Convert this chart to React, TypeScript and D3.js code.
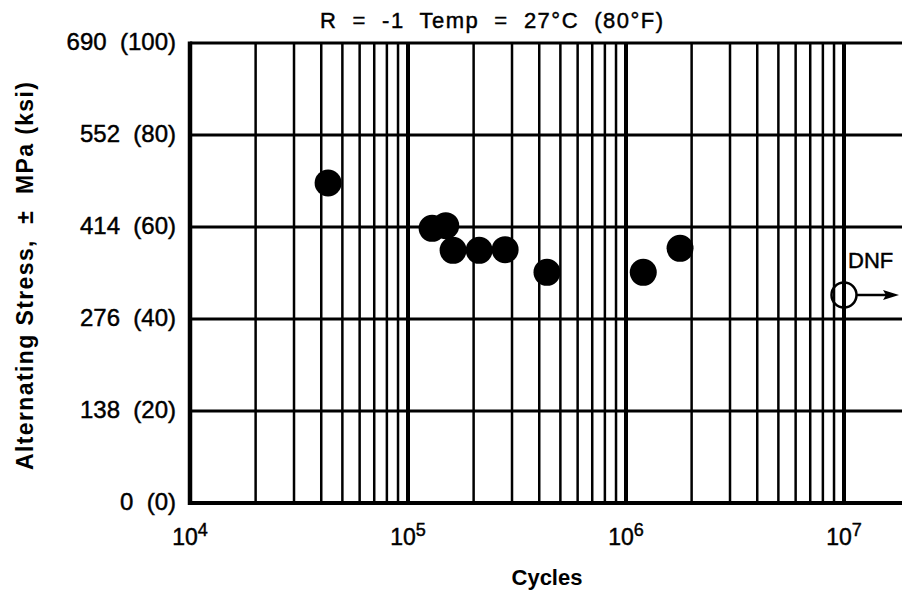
import React from "react";
import * as d3 from "d3";

const cycles = [4.3e4, 1.29e5, 1.49e5, 1.61e5, 2.12e5, 2.79e5, 4.34e5, 1.2e6, 1.77e6];
const stress = [480, 412, 416, 379, 379, 380, 346, 346, 382];
const dnfCycles = [1e7];
const dnfStress = [312];
const yTicks = [0, 138, 276, 414, 552, 690];
const yTickKsi = [0, 20, 40, 60, 80, 100];
const xDecades = [4, 5, 6, 7];

const W = 902;
const H = 594;
const left = 190;
const right = 903;
const top = 43;
const bottom = 503;

export default function App() {
  const decadePx = 218;
  const xMax = Math.pow(10, 4 + (right - left) / decadePx);
  const x = d3.scaleLog().domain([1e4, xMax]).range([left, right]);
  const y = d3.scaleLinear().domain([0, 690]).range([bottom, top]);

  const minor: number[] = [];
  for (let d = 4; d <= 7; d++) {
    for (let m = 2; m <= 9; m++) {
      const v = m * Math.pow(10, d);
      if (v < xMax) minor.push(v);
    }
  }
  const font = "'Liberation Sans', Arial, sans-serif";
  const heavy = { stroke: "#000", strokeWidth: 0.45 };

  return (
    <svg width={W} height={H} style={{ position: "absolute", left: 0, top: 0, background: "#fff" }}>
      <rect x={0} y={0} width={W} height={H} fill="#fff" />
      {minor.map((v, i) => (
        <line key={"m" + i} x1={x(v)} x2={x(v)} y1={top} y2={bottom} stroke="#000" strokeWidth={2.5} />
      ))}
      {xDecades.slice(1).map((d) => (
        <line key={"d" + d} x1={x(Math.pow(10, d))} x2={x(Math.pow(10, d))} y1={top} y2={bottom} stroke="#000" strokeWidth={4} />
      ))}
      {yTicks.map((t) => (
        <line key={"h" + t} x1={left} x2={W} y1={y(t)} y2={y(t)} stroke="#000" strokeWidth={t === 0 ? 4 : 3} />
      ))}
      <line x1={left} x2={left} y1={top - 1.5} y2={bottom + 2} stroke="#000" strokeWidth={4.5} />
      {yTicks.map((t, i) => (
        <text
          key={"yl" + t}
          x={176}
          y={y(t)}
          dy="0.3em"
          textAnchor="end"
          fontFamily={font}
          fontSize={24}
          fill="#000"
          {...heavy}
          style={{ whiteSpace: "pre" }}
        >
          {`${t}  (${yTickKsi[i]})`}
        </text>
      ))}
      {xDecades.map((d) => (
        <text key={"xl" + d} x={x(Math.pow(10, d))} y={545} textAnchor="middle" fontFamily={font} fontSize={23} fill="#000" {...heavy}>
          10
          <tspan dy={-9} fontSize={18}>{d}</tspan>
        </text>
      ))}
      {cycles.map((c, i) => (
        <circle key={"p" + i} cx={x(c)} cy={y(stress[i])} r={13.5} fill="#000" />
      ))}
      {dnfCycles.map((c, i) => {
        const cx = x(c);
        const cy = y(dnfStress[i]);
        return (
          <g key={"dnf" + i}>
            <line x1={cx + 12} x2={cx + 44} y1={cy} y2={cy} stroke="#000" strokeWidth={2.5} />
            <path d={`M${cx + 55},${cy} L${cx + 39},${cy - 5} L${cx + 42},${cy} L${cx + 39},${cy + 5} Z`} fill="#000" />
            <circle cx={cx} cy={cy} r={12.5} fill="none" stroke="#000" strokeWidth={2.5} />
            <text x={cx + 4} y={cy - 27} fontFamily={font} fontSize={22} fill="#000" {...heavy}>
              DNF
            </text>
          </g>
        );
      })}
      <text
        x={320}
        y={28}
        fontFamily={font}
        fontSize={22}
        fill="#000"
        {...heavy}
        textLength={343}
        lengthAdjust="spacing"
        style={{ whiteSpace: "pre" }}
      >
        {"R  =  -1  Temp  =  27°C  (80°F)"}
      </text>
      <text x={547} y={585} textAnchor="middle" fontFamily={font} fontSize={22} fontWeight="bold" fill="#000">
        Cycles
      </text>
      <text
        transform={`translate(33,${276}) rotate(-90)`}
        x={-194}
        fontFamily={font}
        fontSize={23}
        fontWeight="bold"
        fill="#000"
        textLength={388}
        lengthAdjust="spacing"
        style={{ whiteSpace: "pre" }}
      >
        {"Alternating Stress,  ±  MPa (ksi)"}
      </text>
    </svg>
  );
}
